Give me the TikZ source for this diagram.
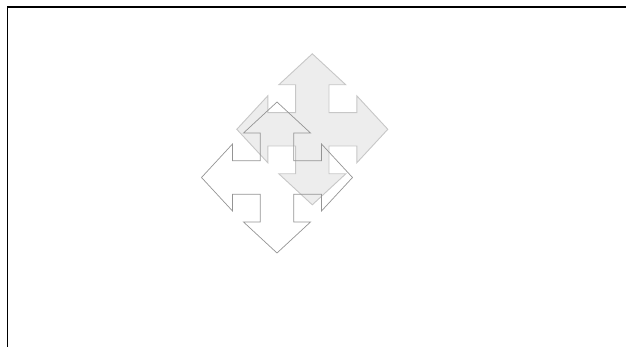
\documentclass[tikz,border=0pt]{standalone}
\usepackage{xcolor}
\usepackage{tikz}

\begin{document}
\begin{tikzpicture}[
        x=1pt, y=-1pt,
        frameline/.style={draw=black, line width=1.4pt},
        filledarrow/.style={draw=black!22, fill=black!7, line width=0.9pt},
        outlinearrow/.style={draw=black!42, line width=0.7pt},
        crossarrow/.pic={
            \path[pic actions] (0,-75.5) -- (33.5,-44.5) -- (16.7,-44.5) -- (16.7,-16.7)
                -- (44.5,-16.7) -- (44.5,-33.5) -- (75.5,0) -- (44.5,33.5) -- (44.5,16.7)
                -- (16.7,16.7) -- (16.7,44.5) -- (33.5,44.5) -- (0,75.5) -- (-33.5,44.5)
                -- (-16.7,44.5) -- (-16.7,16.7) -- (-44.5,16.7) -- (-44.5,33.5) -- (-75.5,0)
                -- (-44.5,-33.5) -- (-44.5,-16.7) -- (-16.7,-16.7) -- (-16.7,-44.5)
                -- (-33.5,-44.5) -- cycle;
        }
    ]

    % canvas
    \useasboundingbox (0,0) rectangle (626,347);

    % ==========================================
    % frame (top and left edges)
    % ==========================================
    \coordinate (frame_bl) at (7.5,347);
    \coordinate (frame_tl) at (7.5,7);
    \coordinate (frame_tr) at (626,7);
    \draw[frameline] (frame_bl) -- (frame_tl) -- (frame_tr);

    % ==========================================
    % four-way arrows
    % ==========================================
    \pic[filledarrow] (arrow_back) at (312.3,129.3) {crossarrow};
    \pic[outlinearrow] (arrow_front) at (277,177.5) {crossarrow};

\end{tikzpicture}
\end{document}
